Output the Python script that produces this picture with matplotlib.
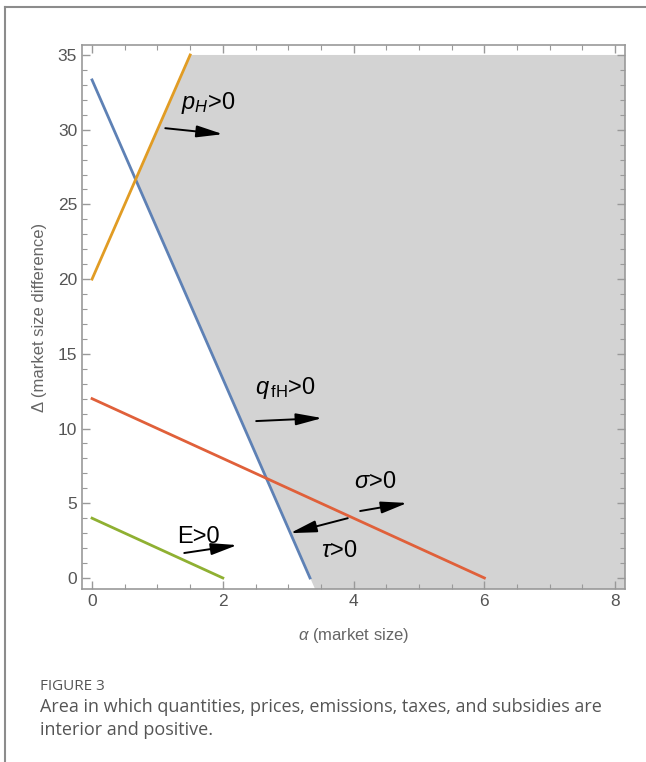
import numpy as np
import matplotlib
matplotlib.use('Agg')
import matplotlib.pyplot as plt
from matplotlib.ticker import MultipleLocator

plt.rcParams['font.family'] = ['Liberation Sans', 'DejaVu Sans']
plt.rcParams['mathtext.fontset'] = 'custom'
plt.rcParams['mathtext.rm'] = 'Liberation Sans'
plt.rcParams['mathtext.it'] = 'Liberation Sans:italic'

# boundary lines (alpha, delta)
blue_alpha = [0, 3.333]
blue_delta = [33.33, 0]
orange_alpha = [0, 1.5]
orange_delta = [20, 35]
red_alpha = [0, 6]
red_delta = [12, 0]
green_alpha = [0, 2]
green_delta = [4, 0]

# feasible region corners
region_alpha = [0.667, 1.5, 8.15, 8.15, 3.41]
region_delta = [26.67, 35, 35, -0.74, -0.74]

# arrows: tail -> head, with labels
arrow_tails = [(1.12, 30.1), (2.51, 10.5), (4.10, 4.48), (3.91, 4.0), (1.41, 1.67)]
arrow_heads = [(2.00, 29.7), (3.52, 10.7), (4.82, 5.02), (3.03, 3.0), (2.22, 2.2)]
label_texts = [r'$p_H$>0', r'$q_{\,\mathrm{fH}}$>0', r'$\sigma$>0', r'$\tau$>0', 'E>0']
label_pos = [(1.77, 31.8), (2.95, 12.7), (4.33, 6.4), (3.79, 1.8), (1.62, 2.75)]

fig = plt.figure(figsize=(6.46, 7.62), dpi=100)

# card frame
fig.add_artist(plt.Line2D([0.0077, 0.0077], [0, 0.9908], color='#8c8c8c', lw=1.5))
fig.add_artist(plt.Line2D([0.0077, 1.0], [0.9908, 0.9908], color='#8c8c8c', lw=1.5))

ax = fig.add_axes([0.127, 0.227, 0.8405, 0.714])
ax.fill(region_alpha, region_delta, color='#d3d3d3', lw=0, zorder=1)

ax.plot(blue_alpha, blue_delta, color='#5E81B5', lw=2, zorder=3)
ax.plot(orange_alpha, orange_delta, color='#E19C24', lw=2, zorder=3)
ax.plot(red_alpha, red_delta, color='#E0603A', lw=2, zorder=3)
ax.plot(green_alpha, green_delta, color='#8FB032', lw=2, zorder=3)

for tail, head in zip(arrow_tails, arrow_heads):
    ax.annotate('', xy=head, xytext=tail,
                arrowprops=dict(arrowstyle='-|>,head_length=0.8,head_width=0.18',
                                color='black', lw=1.4, shrinkA=0, shrinkB=0,
                                mutation_scale=20),
                zorder=4)
for txt, pos in zip(label_texts, label_pos):
    ax.text(pos[0], pos[1], txt, fontsize=17, ha='center', va='center', zorder=5)

ax.set_xlim(-0.153, 8.15)
ax.set_ylim(-0.74, 35.67)
ax.xaxis.set_major_locator(MultipleLocator(2))
ax.xaxis.set_minor_locator(MultipleLocator(0.5))
ax.yaxis.set_major_locator(MultipleLocator(5))
ax.yaxis.set_minor_locator(MultipleLocator(1))
ax.tick_params(which='both', direction='in', top=True, right=True,
               color='#999999', labelcolor='#555555', labelsize=12.5)
ax.tick_params(which='major', length=6, width=1)
ax.tick_params(which='minor', length=3.5, width=0.8)
for s in ax.spines.values():
    s.set_color('#999999')
    s.set_linewidth(1.2)

ax.set_xlabel(r'$\alpha$ (market size)', fontsize=12, color='#666666', labelpad=12)
ax.set_ylabel('\u0394 (market size difference)', fontsize=12, color='#666666', labelpad=8)

fig.text(0.062, 0.094, 'FIGURE 3', fontsize=11, color='#555555',
         family=['Open Sans', 'DejaVu Sans'])
fig.text(0.062, 0.066, 'Area in which quantities, prices, emissions, taxes, and subsidies are',
         fontsize=13, color='#555555', family=['Open Sans', 'DejaVu Sans'])
fig.text(0.062, 0.036, 'interior and positive.',
         fontsize=13, color='#555555', family=['Open Sans', 'DejaVu Sans'])

fig.savefig('out.png', dpi=100)
